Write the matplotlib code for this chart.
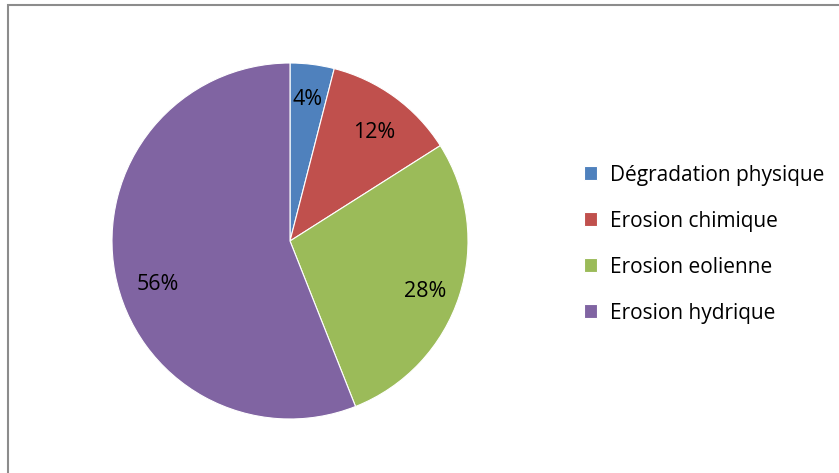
import matplotlib
matplotlib.use("Agg")
import matplotlib.pyplot as plt
from matplotlib.patches import Rectangle

labels = ["Dégradation physique", "Erosion chimique", "Erosion eolienne", "Erosion hydrique"]
values = [4, 12, 28, 56]
colors = ["#4F81BD", "#C0504D", "#9BBB59", "#8064A2"]

plt.rcParams['font.family'] = ['Open Sans', 'DejaVu Sans']

fig = plt.figure(figsize=(8.39, 4.73), dpi=100)
W, H = 839.0, 473.0

# gray frame (right and bottom edges fall outside the picture)
fig.patches.append(Rectangle((8 / W, 0 - 0.1), 1.1, (H - 5) / H + 0.1, transform=fig.transFigure,
                             fill=False, edgecolor="#8c8c8c", linewidth=1.5))

cx, cy, r = 290.0, 241.0, 178.0
ax = fig.add_axes([(cx - r) / W, (H - cy - r) / H, 2 * r / W, 2 * r / H])
wedges, texts, autotexts = ax.pie(values, colors=colors, startangle=90, counterclock=False,
                                  autopct="%d%%", pctdistance=0.8,
                                  wedgeprops=dict(edgecolor="white", linewidth=0.8),
                                  textprops=dict(fontsize=15.5, color="black"))
# small nudges of the labels (in radius units) to match the reference placement
nudges = [(0.0, 0.0), (0.0, -0.035), (0.0, -0.035), (0.045, -0.095)]
for t, (dx, dy) in zip(autotexts, nudges):
    x, y = t.get_position()
    t.set_position((x + dx, y + dy))

ax.set_xlim(-1, 1)
ax.set_ylim(-1, 1)
ax.set_aspect("equal")
ax.axis("off")

fig.legend(wedges, labels, loc="center left", bbox_to_anchor=(565 / W, (H - 244) / H),
           frameon=False, fontsize=15, handlelength=0.65, handleheight=0.65,
           labelspacing=1.2, handletextpad=0.6)

fig.savefig("out.png", dpi=100)
